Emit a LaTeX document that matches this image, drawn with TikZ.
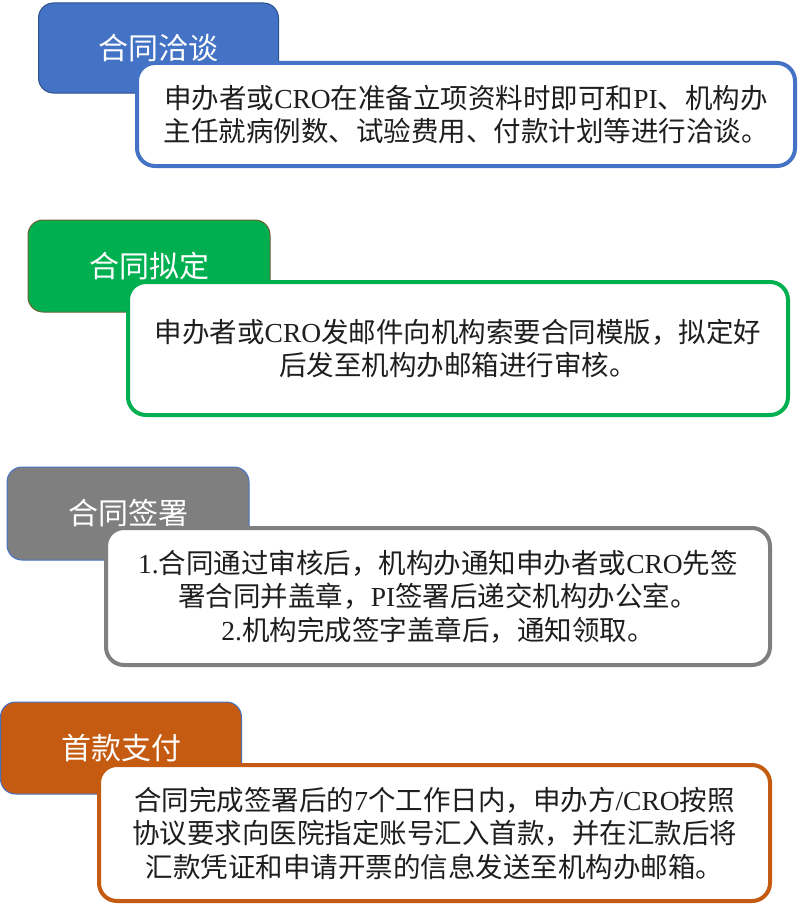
\documentclass[tikz,border=0pt]{standalone}
\usepackage{fontspec}
\newfontfamily\cjk{Noto Sans CJK SC}
\newfontfamily\latinfont{Liberation Serif}
\newcommand\latn[1]{{\latinfont #1}}
\definecolor{cblue}{HTML}{4472C4}
\definecolor{cblueD}{HTML}{2F528F}
\definecolor{cgreen}{HTML}{00B050}
\definecolor{cgreenB}{HTML}{00B050}
\definecolor{cgreenD}{HTML}{6B6230}
\definecolor{cgrey}{HTML}{7F7F7F}
\definecolor{corange}{HTML}{C55A11}
\definecolor{ctext}{HTML}{1E1E1E}
\tikzset{
  head/.style={draw, line width=1pt, rounded corners=15pt, inner sep=0pt,
    text=white, font=\cjk\fontsize{30}{34}\selectfont},
  body/.style={draw, fill=white, line width=4pt, rounded corners=18pt, inner sep=0pt,
    align=center, text=ctext, font=\cjk\fontsize{27.5}{33.5}\selectfont},
}
\begin{document}
\begin{tikzpicture}[x=1pt,y=-1pt]
\useasboundingbox (0,0) rectangle (800,907);
% Block 1
\node[head, fill=cblue, draw=cblueD, minimum width=240pt, minimum height=90pt] (h1) at (158.5,48) {合同洽谈};
\node[body, draw=cblue, minimum width=658pt, minimum height=103pt] (b1) at (466,114.5)
  {申办者或\latn{CRO}在准备立项资料时即可和\latn{PI}、机构办\\主任就病例数、试验费用、付款计划等进行洽谈。};
% Block 2
\node[head, fill=cgreen, draw=cgreenD, minimum width=242pt, minimum height=92pt] (h2) at (149,266) {合同拟定};
\node[body, draw=cgreenB, minimum width=660pt, minimum height=133pt] (b2) at (458,348.5)
  {申办者或\latn{CRO}发邮件向机构索要合同模版，拟定好\\后发至机构办邮箱进行审核。};
% Block 3
\node[head, fill=cgrey, draw=cblue, minimum width=242pt, minimum height=93pt] (h3) at (128,513.5) {合同签署};
\node[body, draw=cgrey, minimum width=664pt, minimum height=137pt] (b3) at (438,596.5)
  {\latn{1.}合同通过审核后，机构办通知申办者或\latn{CRO}先签\\署合同并盖章，\latn{PI}签署后递交机构办公室。\\\latn{2.}机构完成签字盖章后，通知领取。};
% Block 4
\node[head, fill=corange, draw=cblue, minimum width=241pt, minimum height=92pt] (h4) at (121,748) {首款支付};
\node[body, draw=corange, minimum width=671pt, minimum height=136pt] (b4) at (434.5,833)
  {合同完成签署后的\latn{7}个工作日内，申办方\latn{/CRO}按照\\协议要求向医院指定账号汇入首款，并在汇款后将\\汇款凭证和申请开票的信息发送至机构办邮箱。};
\end{tikzpicture}
\end{document}
